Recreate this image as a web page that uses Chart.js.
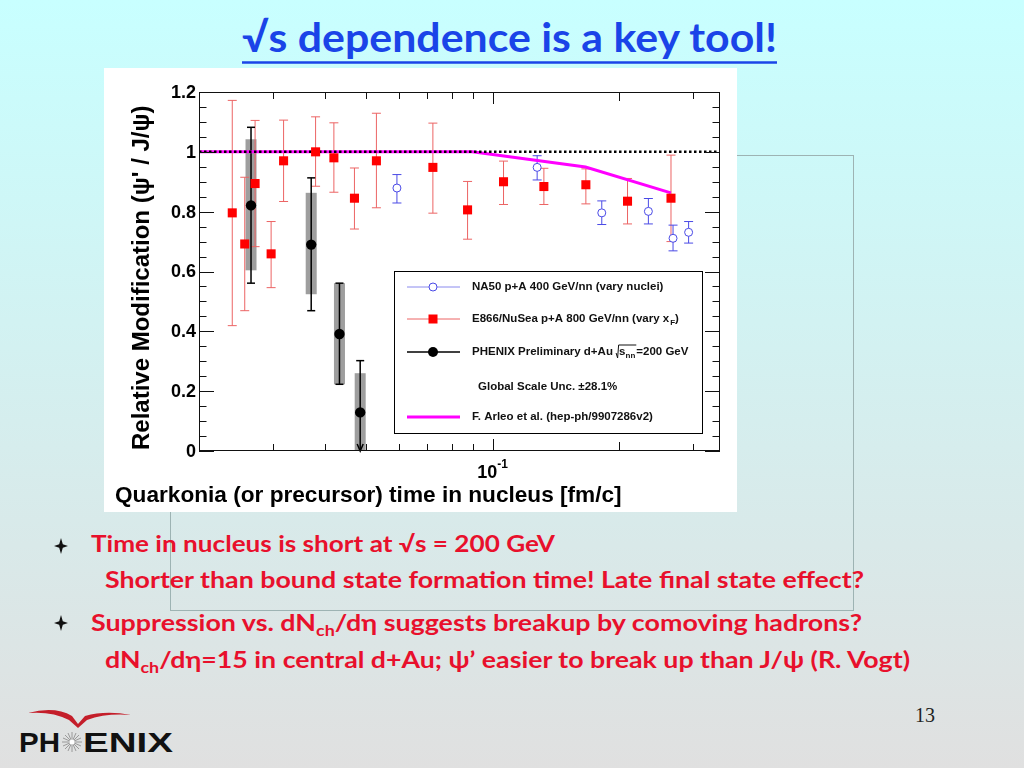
<!DOCTYPE html>
<html><head><meta charset="utf-8">
<script src="https://cdn.jsdelivr.net/npm/chart.js@4.4.1/dist/chart.umd.min.js"></script>
<style>
html,body{margin:0;padding:0;width:1024px;height:768px;overflow:hidden;background:#d8eeee;}
#slide{position:absolute;left:0;top:0;}
#chartBox{position:absolute;left:104px;top:68px;width:633px;height:444px;background:#fff;}
</style></head><body>
<svg id="slide" width="1024" height="768" xmlns="http://www.w3.org/2000/svg">
 <defs><linearGradient id="bg" x1="0" y1="0" x2="0" y2="1">
  <stop offset="0" stop-color="#c8ffff"/><stop offset="1" stop-color="#e0e0e0"/></linearGradient></defs>
 <rect width="1024" height="768" fill="url(#bg)"/>
 <rect x="170.5" y="155.5" width="683" height="455" fill="none" stroke="#9db3b3" stroke-width="1"/>
 <text x="242" y="52" textLength="535" lengthAdjust="spacingAndGlyphs" font-family="Lato, 'Open Sans', sans-serif" font-weight="bold" font-size="40" fill="#1a44e8">√s dependence is a key tool!</text>
 <line x1="242" y1="62.5" x2="777" y2="62.5" stroke="#1a44e8" stroke-width="2.5"/>
 <path d="M61,538 L62.8,544.2 L68,546 L62.8,547.8 L61,554 L59.2,547.8 L54,546 L59.2,544.2 Z" fill="#111"/>
 <path d="M61,615 L62.8,621.2 L68,623 L62.8,624.8 L61,631 L59.2,624.8 L54,623 L59.2,621.2 Z" fill="#111"/>
 <g font-family="Lato, 'Open Sans', 'Noto Sans', sans-serif" font-weight="bold" font-size="22.5" fill="#e8102c">
  <text x="91" y="552" textLength="464" lengthAdjust="spacingAndGlyphs">Time in nucleus is short at √s = 200 GeV</text>
  <text x="105" y="588" textLength="759" lengthAdjust="spacingAndGlyphs">Shorter than bound state formation time! Late final state effect?</text>
  <text x="91" y="631" textLength="771" lengthAdjust="spacingAndGlyphs">Suppression vs. dN<tspan font-size="15" dy="5">ch</tspan><tspan dy="-5">/dη suggests breakup by comoving hadrons?</tspan></text>
  <text x="105" y="668" textLength="805" lengthAdjust="spacingAndGlyphs">dN<tspan font-size="15" dy="5">ch</tspan><tspan dy="-5">/dη=15 in central d+Au; ψ’ easier to break up than J/ψ (R. Vogt)</tspan></text>
 </g>
 <text x="915" y="722" font-family="'Liberation Serif', serif" font-size="20" fill="#222">13</text>
 <path d="M28,713 Q55,706 72,716 L78,724 L85,716 Q106,710 131,715 Q106,713 87,720 L78,728 L69,720 Q52,711 28,713 Z" fill="#c41e2a"/>
 <g font-family="'Liberation Sans', Arial, sans-serif" font-weight="bold" font-size="28" fill="#111">
  <text x="19" y="752" textLength="41" lengthAdjust="spacingAndGlyphs">PH</text>
  <text x="83" y="752" textLength="90" lengthAdjust="spacingAndGlyphs">ENIX</text>
 </g>
 <g stroke="#9a9a9a" stroke-width="1">
  <line x1="72" y1="732" x2="72" y2="752"/><line x1="62" y1="742" x2="82" y2="742"/>
  <line x1="65" y1="735" x2="79" y2="749"/><line x1="79" y1="735" x2="65" y2="749"/>
  <line x1="68" y1="733" x2="76" y2="751"/><line x1="76" y1="733" x2="68" y2="751"/>
  <line x1="63" y1="738" x2="81" y2="746"/><line x1="81" y1="738" x2="63" y2="746"/>
 </g>
 <circle cx="72" cy="742" r="2.5" fill="#fff"/>
</svg>
<div id="chartBox"><canvas id="c"></canvas></div>
<script>
// ---- data ----
const e866X=[0.0240,0.0257,0.0272,0.0297,0.0318,0.0379,0.0419,0.0469,0.0529,0.0721,0.0872,0.1062,0.1325,0.1668,0.2096,0.266];
const e866Y=[0.796,0.692,0.894,0.659,0.970,1.000,0.980,0.845,0.970,0.948,0.806,0.900,0.884,0.890,0.835,0.845];
const e866Lo=[0.419,0.469,0.683,0.546,0.834,0.885,0.865,0.742,0.813,0.795,0.708,0.824,0.824,0.826,0.759,0.700];
const e866Hi=[1.172,0.915,1.105,0.767,1.106,1.117,1.097,0.946,1.129,1.096,0.901,0.969,0.945,0.943,0.911,0.989];

const na50X=[0.0592,0.1277,0.182,0.235,0.269,0.293];
const na50Y=[0.879,0.948,0.796,0.801,0.711,0.731];
const na50Lo=[0.829,0.906,0.757,0.759,0.669,0.695];
const na50Hi=[0.924,0.987,0.836,0.844,0.755,0.767];

const phxX=[0.0266,0.0370,0.0432,0.0484];
const phxY=[0.821,0.690,0.391,0.129];
const phxLo=[0.561,0.469,0.223,0];
const phxHi=[1.082,0.913,0.561,0.302];
const phxSysLo=[0.604,0.524,0.223,0];
const phxSysHi=[1.042,0.863,0.561,0.260];
const phxUpperLimit=[false,false,false,true];

const arleoX=[0.02,0.0895,0.1665,0.2658];
const arleoY=[1,1,0.949,0.863];
const unityX=[0.02,0.348];
const unityY=[1,1];

const yMajorTicks=[0,0.2,0.4,0.6,0.8,1.0,1.2];
const yTickLabels=['0','0.2','0.4','0.6','0.8','1','1.2'];
const yMinorTicks=[0.05,0.1,0.15,0.25,0.3,0.35,0.45,0.5,0.55,0.65,0.7,0.75,0.85,0.9,0.95,1.05,1.1,1.15];
const xMajorTicks=[0.1];
const xMidTicks=[0.2];
const xMinorTicks=[0.03,0.04,0.05,0.06,0.07,0.08,0.09,0.3];
const xMin=0.02, xMax=0.348, yMin=0, yMax=1.2;

const legendItems=['NA50 p+A 400 GeV/nn (vary nuclei)','E866/NuSea p+A 800 GeV/nn (vary x','PHENIX Preliminary d+Au ','Global Scale Unc. \u00b128.1%','F. Arleo et al. (hep-ph/9907286v2)'];
const xTitle='Quarkonia (or precursor) time in nucleus [fm/c]';
const yTitle='Relative Modification (\u03c8\' / J/\u03c8)';

const pts=(xs,ys)=>xs.map((x,i)=>({x:x,y:ys[i]}));
const FONT="'Liberation Sans', Arial, Helvetica, sans-serif";

function line(ctx,x1,y1,x2,y2){ctx.beginPath();ctx.moveTo(x1,y1);ctx.lineTo(x2,y2);ctx.stroke();}
function errBar(ctx,xs,ys,lo,hi,color,w,cap,sx,sy){
  ctx.save();ctx.strokeStyle=color;ctx.lineWidth=w;
  for(let i=0;i<xs.length;i++){
    const px=sx.getPixelForValue(xs[i]);
    const pl=sy.getPixelForValue(lo[i]), ph=sy.getPixelForValue(hi[i]);
    line(ctx,px,pl,px,ph);
    line(ctx,px-cap,ph,px+cap,ph);
    line(ctx,px-cap,pl,px+cap,pl);
  }
  ctx.restore();
}

const rootPlugin={
  id:'rootStyle',
  beforeDatasetsDraw(chart){
    const ctx=chart.ctx, sx=chart.scales.x, sy=chart.scales.y;
    ctx.save();
    ctx.fillStyle='rgba(120,120,120,0.72)';
    for(let i=0;i<phxX.length;i++){
      const px=sx.getPixelForValue(phxX[i]);
      const t=sy.getPixelForValue(phxSysHi[i]), b=sy.getPixelForValue(phxSysLo[i]);
      ctx.fillRect(px-5.5,t,11,b-t);
    }
    ctx.restore();
    errBar(ctx,e866X,e866Y,e866Lo,e866Hi,'#ec6464',1,4.5,sx,sy);
    errBar(ctx,na50X,na50Y,na50Lo,na50Hi,'#4a4ae6',1,4.5,sx,sy);
    ctx.save();ctx.strokeStyle='#000';ctx.lineWidth=1.5;
    for(let i=0;i<phxX.length;i++){
      const px=sx.getPixelForValue(phxX[i]);
      const pl=sy.getPixelForValue(phxLo[i]), ph=sy.getPixelForValue(phxHi[i]);
      line(ctx,px,pl,px,ph);line(ctx,px-4,ph,px+4,ph);
      if(phxUpperLimit[i]){
        ctx.beginPath();ctx.moveTo(px-3,pl-7);ctx.lineTo(px,pl);ctx.lineTo(px+3,pl-7);ctx.stroke();
      } else line(ctx,px-4,pl,px+4,pl);
    }
    ctx.restore();
  },
  afterDraw(chart){
    const ctx=chart.ctx, sx=chart.scales.x, sy=chart.scales.y, ca=chart.chartArea;
    ctx.save();
    ctx.strokeStyle='#111';ctx.lineWidth=1;
    ctx.strokeRect(ca.left+0.5,ca.top+0.5,ca.right-ca.left-1,ca.bottom-ca.top-1);
    const yt=(v,len)=>{const p=Math.round(sy.getPixelForValue(v))+0.5;line(ctx,ca.left,p,ca.left+len,p);line(ctx,ca.right,p,ca.right-len,p);};
    yMajorTicks.forEach(v=>yt(v,15));
    yMinorTicks.forEach(v=>yt(v,7.5));
    const xt=(v,len)=>{const p=Math.round(sx.getPixelForValue(v))+0.5;line(ctx,p,ca.bottom,p,ca.bottom-len);line(ctx,p,ca.top,p,ca.top+len);};
    xMajorTicks.forEach(v=>xt(v,12));
    xMidTicks.forEach(v=>xt(v,9));
    xMinorTicks.forEach(v=>xt(v,7));
    ctx.fillStyle='#000';
    ctx.font='bold 18px '+FONT;ctx.textAlign='right';ctx.textBaseline='middle';
    yMajorTicks.forEach((v,i)=>ctx.fillText(yTickLabels[i],ca.left-3,sy.getPixelForValue(v)+1));
    const p1=sx.getPixelForValue(0.1);
    ctx.textBaseline='alphabetic';ctx.textAlign='left';
    ctx.font='bold 18px '+FONT;
    const w10=ctx.measureText('10').width;
    ctx.font='bold 12px '+FONT;
    const wE=ctx.measureText('-1').width;
    const x0=p1-(w10+wE)/2;
    ctx.font='bold 18px '+FONT;ctx.fillText('10',x0,ca.bottom+27);
    ctx.font='bold 12px '+FONT;ctx.fillText('-1',x0+w10,ca.bottom+17);
    let fs=22;ctx.font='bold '+fs+'px '+FONT;
    fs=fs*507/ctx.measureText(xTitle).width;ctx.font='bold '+fs.toFixed(2)+'px '+FONT;
    ctx.fillText(xTitle,ca.left-84,ca.bottom+51);
    fs=22;ctx.font='bold '+fs+'px '+FONT;
    fs=Math.min(24,fs*359/ctx.measureText(yTitle).width);ctx.font='bold '+fs.toFixed(2)+'px '+FONT;
    ctx.save();ctx.translate(ca.left-50,ca.bottom-1);ctx.rotate(-Math.PI/2);
    ctx.textAlign='left';ctx.fillText(yTitle,0,0);ctx.restore();
    const L=ca.left+195, T=ca.top+179, W=308, H=162;
    ctx.fillStyle='#fff';ctx.fillRect(L,T,W,H);
    ctx.strokeStyle='#000';ctx.lineWidth=1;ctx.strokeRect(L+0.5,T+0.5,W,H);
    const rows=[16,48,81,116,146];
    const lx1=L+13,lx2=L+66,mx=L+39,tx=L+78;
    ctx.strokeStyle='#8a8aee';ctx.lineWidth=1;line(ctx,lx1,T+rows[0],lx2,T+rows[0]);
    ctx.beginPath();ctx.arc(mx,T+rows[0],4,0,Math.PI*2);ctx.fillStyle='#fff';ctx.fill();ctx.strokeStyle='#4a4ae6';ctx.stroke();
    ctx.strokeStyle='#ec6464';line(ctx,lx1,T+rows[1],lx2,T+rows[1]);
    ctx.fillStyle='#ff0000';ctx.fillRect(mx-4.5,T+rows[1]-4.5,9,9);
    ctx.strokeStyle='#000';ctx.lineWidth=1.3;line(ctx,lx1,T+rows[2],lx2,T+rows[2]);
    ctx.beginPath();ctx.arc(mx,T+rows[2],5,0,Math.PI*2);ctx.fillStyle='#000';ctx.fill();
    ctx.strokeStyle='#ff00ff';ctx.lineWidth=3;line(ctx,lx1,T+rows[4],lx2,T+rows[4]);
    ctx.fillStyle='#111';ctx.textBaseline='middle';ctx.textAlign='left';
    const LF='bold 11.5px '+FONT, LS='bold 8px '+FONT;
    ctx.font=LF;
    ctx.fillText(legendItems[0],tx,T+rows[0]);
    ctx.fillText(legendItems[1],tx,T+rows[1]);
    let w=ctx.measureText(legendItems[1]).width;
    ctx.font=LS;ctx.fillText('F',tx+w+1,T+rows[1]+4);
    let wf=ctx.measureText('F').width;
    ctx.font=LF;ctx.fillText(')',tx+w+1+wf,T+rows[1]);
    ctx.fillText(legendItems[2],tx,T+rows[2]);
    w=ctx.measureText(legendItems[2]).width;
    let sxp=tx+w;
    ctx.lineWidth=1;ctx.strokeStyle='#111';
    ctx.beginPath();ctx.moveTo(sxp,T+rows[2]+1);ctx.lineTo(sxp+1.5,T+rows[2]+6);ctx.lineTo(sxp+2.5,T+rows[2]-7);ctx.stroke();
    let cx=sxp+3;
    ctx.fillText('s',cx,T+rows[2]);cx+=ctx.measureText('s').width;
    ctx.font=LS;ctx.fillText('nn',cx,T+rows[2]+4);cx+=ctx.measureText('nn').width+1;
    line(ctx,sxp+2.5,T+rows[2]-7,cx,T+rows[2]-7);
    ctx.font=LF;ctx.fillText('=200 GeV',cx,T+rows[2]);
    ctx.fillText(legendItems[3],L+84,T+rows[3]);
    ctx.fillText(legendItems[4],tx,T+rows[4]);
    ctx.restore();
  }
};

new Chart(document.getElementById('c'),{
  type:'scatter',
  data:{datasets:[
    {label:'unity',data:pts(unityX,unityY),showLine:true,borderColor:'#000',borderWidth:2.5,borderDash:[2.5,2.5],pointRadius:0,order:5},
    {label:'Arleo',data:pts(arleoX,arleoY),showLine:true,borderColor:'#ff00ff',borderWidth:3,pointRadius:0,order:6},
    {label:'NA50',data:pts(na50X,na50Y),pointStyle:'circle',pointRadius:4,backgroundColor:'#fff',borderColor:'#4a4ae6',borderWidth:1,order:3},
    {label:'E866',data:pts(e866X,e866Y),pointStyle:'rect',pointRadius:6.4,backgroundColor:'#ff0000',borderColor:'#ff0000',borderWidth:0,order:2},
    {label:'PHENIX',data:pts(phxX,phxY),pointStyle:'circle',pointRadius:5.2,backgroundColor:'#000',borderColor:'#000',borderWidth:0,order:1}
  ]},
  options:{
    responsive:true,maintainAspectRatio:false,animation:false,
    layout:{padding:{left:95,top:24,right:17,bottom:61}},
    plugins:{legend:{display:false},tooltip:{enabled:false},title:{display:false}},
    scales:{
      x:{type:'logarithmic',min:xMin,max:xMax,display:false},
      y:{type:'linear',min:yMin,max:yMax,display:false}
    },
    elements:{line:{tension:0}}
  },
  plugins:[rootPlugin]
});
</script>
</body></html>
